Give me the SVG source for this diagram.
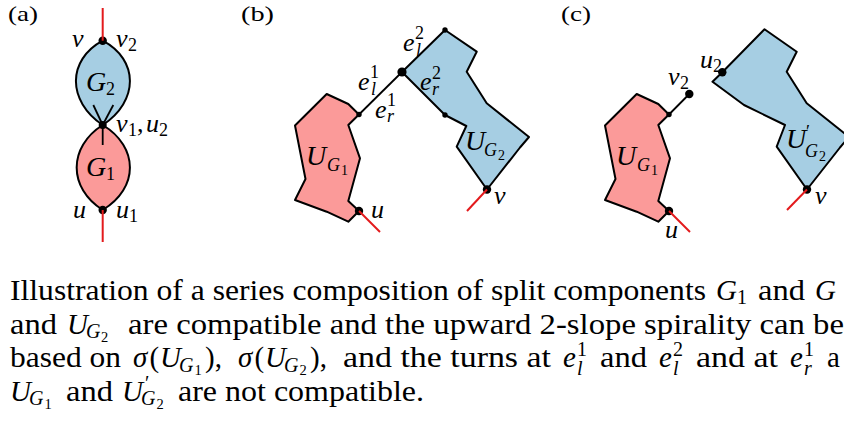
<svg xmlns="http://www.w3.org/2000/svg" width="844" height="425" viewBox="0 0 844 425">
<style>
text{font-family:"Liberation Serif","Times New Roman",serif;fill:#000}
.cap{font-size:29px}
.mi{font-style:italic}
.up{font-style:normal}
.s1{font-size:20px}
.s2{font-size:14.5px}
.lb{font-size:26px;font-style:italic}
.big{font-size:28px}
.sb{font-size:18px}
.ss{font-size:14px}
.pl{font-size:22px}
.pink{fill:#fb9a99;stroke:#000;stroke-width:2;stroke-linejoin:round}
.blue{fill:#a6cee3;stroke:#000;stroke-width:2;stroke-linejoin:round}
.red{stroke:#e31a1c;stroke-width:2;fill:none}
.edge{stroke:#000;stroke-width:1.8;fill:none}
.dot{fill:#000}
</style>

<g id="panel-labels">
<text class="pl" x="8" y="21" textLength="30" lengthAdjust="spacingAndGlyphs">(a)</text>
<text class="pl" x="241" y="21" textLength="33" lengthAdjust="spacingAndGlyphs">(b)</text>
<text class="pl" x="561" y="21" textLength="30" lengthAdjust="spacingAndGlyphs">(c)</text>
</g>

<g id="a-G2">
<path class="blue" d="M102.7,40.7 C67,60 67,101 102.7,125 C139,101 139,60 102.7,40.7 Z"/>
<text class="lb big" x="86" y="91">G<tspan class="sb up" x="106" y="95">2</tspan></text>
</g>
<g id="a-G1">
<path class="pink" d="M102.7,125 C68,147 68,188 102.7,210 C139,188 139,147 102.7,125 Z"/>
<text class="lb big" x="86" y="176">G<tspan class="sb up" x="106" y="180">1</tspan></text>
</g>
<g id="a-v">
<circle class="dot" cx="102.7" cy="40.7" r="4.2"/>
<text class="lb" x="72" y="47">v</text>
<text class="lb" x="116" y="47">v<tspan class="sb up" x="128" y="51">2</tspan></text>
</g>
<g id="a-v1u2">
<circle class="dot" cx="102.7" cy="125" r="4"/>
<text class="lb" x="116" y="132">v<tspan class="sb up" x="128" y="136">1</tspan><tspan class="up" x="137" y="132">,</tspan><tspan x="146" y="132">u</tspan><tspan class="sb up" x="159" y="136">2</tspan></text>
</g>
<g id="a-u">
<circle class="dot" cx="102.7" cy="210" r="4.2"/>
<text class="lb" x="73" y="218">u</text>
<text class="lb" x="116" y="218">u<tspan class="sb up" x="129" y="222">1</tspan></text>
</g>

<g id="b-UG1">
<polygon class="pink" points="326.7,94 348.3,104 359,114.5 348.3,125 360,158.3 348.3,201 359,211 348.3,221.7 326.7,211.7 295,200 305.5,179 295,125.5"/>
<text class="lb big" x="306" y="165">U<tspan class="sb" x="327" y="171">G</tspan><tspan class="ss up" x="341" y="175">1</tspan></text>
</g>
<g id="b-UG2">
<polygon class="blue" points="445,30 476.7,51.7 466.7,71.7 486.7,103.3 529,137 520,147.5 487,189.5 456.7,146.7 466.3,126 445,115 402,72"/>
<text class="lb big" x="465" y="150">U<tspan class="sb" x="484" y="156">G</tspan><tspan class="ss up" x="498" y="160">2</tspan></text>
</g>
<g id="b-center">
<circle class="dot" cx="402" cy="72" r="4.6"/>
</g>
<g id="b-minor">
<circle class="dot" cx="359" cy="114.5" r="2.7"/>
<circle class="dot" cx="445" cy="115" r="2.7"/>
<circle class="dot" cx="445" cy="30" r="2.7"/>
</g>
<g id="b-u">
<circle class="dot" cx="359" cy="211" r="4.2"/>
<text class="lb" x="371" y="218">u</text>
</g>
<g id="b-v">
<circle class="dot" cx="487" cy="189.5" r="4.2"/>
<text class="lb" x="494" y="204">v</text>
</g>
<g id="b-edge-labels">
<text class="lb" x="403" y="51">e<tspan class="sb up" x="415" y="39">2</tspan><tspan class="sb" x="416" y="56">l</tspan></text>
<text class="lb" x="358" y="90">e<tspan class="sb up" x="370" y="78">1</tspan><tspan class="sb" x="371" y="95">l</tspan></text>
<text class="lb" x="420" y="90">e<tspan class="sb up" x="432" y="79">2</tspan><tspan class="sb" x="432" y="95">r</tspan></text>
<text class="lb" x="375" y="118">e<tspan class="sb up" x="387" y="106">1</tspan><tspan class="sb" x="387" y="122">r</tspan></text>
</g>

<g id="c-UG1">
<polygon class="pink" points="636.7,94 658.3,104 669,114.5 658.3,125 670,158.3 658.3,201 669,211 658.3,221.7 636.7,211.7 605,200 615.5,179 605,125.5"/>
<text class="lb big" x="616" y="165">U<tspan class="sb" x="637" y="171">G</tspan><tspan class="ss up" x="651" y="175">1</tspan></text>
</g>
<g id="c-UG2p">
<polygon class="blue" points="764.5,29.3 796.7,51.7 786.7,71.7 806.7,103.3 849,137 840,147.5 807,189.5 776.7,146.7 785,125 744,105 712.5,81.7 722.3,72.3"/>
<text class="lb big" x="786" y="148">U<tspan class="sb up" x="806" y="138">′</tspan><tspan class="sb" x="805" y="157">G</tspan><tspan class="ss up" x="819" y="161">2</tspan></text>
</g>
<g id="c-minor">
<circle class="dot" cx="669" cy="114.5" r="2.7"/>
</g>
<g id="c-v2">
<circle class="dot" cx="689.3" cy="94" r="4.2"/>
<text class="lb" x="668" y="85">v<tspan class="sb up" x="680" y="89">2</tspan></text>
</g>
<g id="c-u2">
<circle class="dot" cx="722.3" cy="72.3" r="4.2"/>
<text class="lb" x="700" y="68">u<tspan class="sb up" x="713" y="72">2</tspan></text>
</g>
<g id="c-u">
<circle class="dot" cx="669" cy="211" r="4.2"/>
<text class="lb" x="665" y="238">u</text>
</g>
<g id="c-v">
<circle class="dot" cx="807" cy="189.5" r="4.2"/>
<text class="lb" x="815" y="204">v</text>
</g>

<g id="connectors">
<line class="red" x1="102.7" y1="8" x2="102.7" y2="40.7"/>
<line class="red" x1="102.7" y1="210" x2="102.7" y2="242"/>
<line class="edge" x1="102.7" y1="125" x2="93.3" y2="105"/>
<line class="edge" x1="102.7" y1="125" x2="113.3" y2="105"/>
<line class="edge" x1="102.7" y1="125" x2="102.7" y2="145"/>
<line class="edge" x1="359" y1="114.5" x2="402" y2="72"/>
<line class="red" x1="359" y1="211" x2="380" y2="232"/>
<line class="red" x1="487" y1="189.5" x2="467" y2="211"/>
<line class="edge" x1="669" y1="114.5" x2="689.3" y2="94"/>
<line class="red" x1="669" y1="211" x2="690" y2="232"/>
<line class="red" x1="807" y1="189.5" x2="787" y2="210"/>
</g>

<g id="caption">
<text class="cap" x="10" y="300"><tspan textLength="696" lengthAdjust="spacingAndGlyphs">Illustration of a series composition of split components</tspan><tspan class="mi" x="716" y="300">G</tspan><tspan class="s1" x="737" y="304">1</tspan><tspan x="758" y="300" textLength="47" lengthAdjust="spacingAndGlyphs">and</tspan><tspan class="mi" x="815" y="300">G</tspan></text>

<text class="cap" x="10" y="333.5"><tspan textLength="47" lengthAdjust="spacingAndGlyphs">and</tspan><tspan class="mi" x="67" y="333.5">U</tspan><tspan class="mi s1" x="86" y="338">G</tspan><tspan class="s2" x="101" y="341.5">2</tspan><tspan x="128" y="333.5" textLength="716" lengthAdjust="spacingAndGlyphs">are compatible and the upward 2-slope spirality can be</tspan></text>

<text class="cap" x="10" y="367"><tspan textLength="111" lengthAdjust="spacingAndGlyphs">based on</tspan><tspan class="mi" x="133" y="367">σ</tspan><tspan x="149.6" y="367">(</tspan><tspan class="mi" x="160" y="367">U</tspan><tspan class="mi s1" x="179" y="371.5">G</tspan><tspan class="s2" x="194.5" y="375">1</tspan><tspan x="205" y="367">),</tspan><tspan class="mi" x="238" y="367">σ</tspan><tspan x="254.6" y="367">(</tspan><tspan class="mi" x="265" y="367">U</tspan><tspan class="mi s1" x="284" y="371.5">G</tspan><tspan class="s2" x="299.5" y="375">2</tspan><tspan x="310" y="367">),</tspan><tspan x="343" y="367" textLength="208" lengthAdjust="spacingAndGlyphs">and the turns at</tspan><tspan class="mi" x="563" y="367">e</tspan><tspan class="s1" x="577" y="356">1</tspan><tspan class="mi s1" x="577" y="375">l</tspan><tspan x="600" y="367" textLength="47" lengthAdjust="spacingAndGlyphs">and</tspan><tspan class="mi" x="659" y="367">e</tspan><tspan class="s1" x="673" y="356">2</tspan><tspan class="mi s1" x="673" y="375">l</tspan><tspan x="696" y="367" textLength="82" lengthAdjust="spacingAndGlyphs">and at</tspan><tspan class="mi" x="790" y="367">e</tspan><tspan class="s1" x="804" y="356">1</tspan><tspan class="mi s1" x="804" y="375">r</tspan><tspan x="827" y="367">a</tspan></text>

<text class="cap" x="10" y="400.5"><tspan class="mi">U</tspan><tspan class="mi s1" x="29" y="405">G</tspan><tspan class="s2" x="44.5" y="408.5">1</tspan><tspan x="66" y="400.5" textLength="47" lengthAdjust="spacingAndGlyphs">and</tspan><tspan class="mi" x="122" y="400.5">U</tspan><tspan class="s1" x="145" y="390">′</tspan><tspan class="mi s1" x="141" y="405">G</tspan><tspan class="s2" x="156.5" y="408.5">2</tspan><tspan x="178" y="400.5" textLength="246" lengthAdjust="spacingAndGlyphs">are not compatible.</tspan></text>
</g>
</svg>
